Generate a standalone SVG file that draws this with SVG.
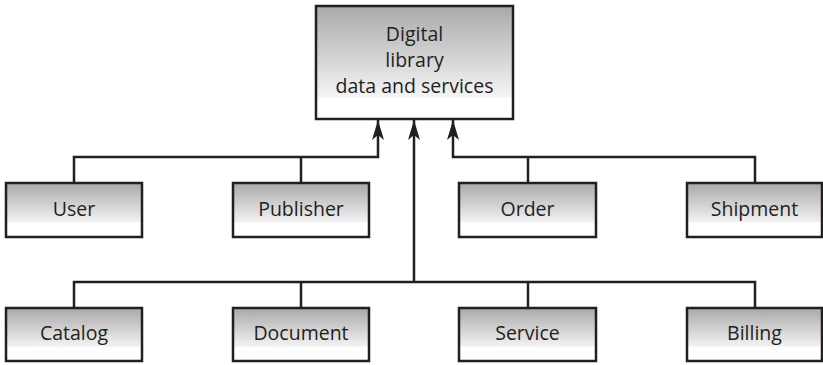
<svg xmlns="http://www.w3.org/2000/svg" width="823" height="365" viewBox="0 0 823 365">
  <defs>
    <linearGradient id="fillTop" x1="0" y1="0" x2="0" y2="1">
      <stop offset="0" stop-color="#a9a9a9"/>
      <stop offset="0.8" stop-color="#f4f4f4"/>
      <stop offset="0.82" stop-color="#ffffff"/>
      <stop offset="1" stop-color="#ffffff"/>
    </linearGradient>
    <linearGradient id="fillBox" x1="0" y1="0" x2="0" y2="1">
      <stop offset="0" stop-color="#a9a9a9"/>
      <stop offset="0.72" stop-color="#f2f2f2"/>
      <stop offset="0.74" stop-color="#ffffff"/>
      <stop offset="1" stop-color="#ffffff"/>
    </linearGradient>
    <!-- notched arrowhead, drawn pointing along +x so orient="auto" follows the path -->
    <marker id="arrow" viewBox="0 0 20 12" refX="20" refY="6" markerWidth="20" markerHeight="12" markerUnits="userSpaceOnUse" orient="auto">
      <path d="M20 6 L0 0 L5 6 L0 12 Z" fill="#231f20"/>
    </marker>
    <style>
      .box { stroke: #231f20; stroke-width: 2.5; }
      .top { fill: url(#fillTop); }
      .leaf { fill: url(#fillBox); }
      .label { font-family: "Open Sans", "Noto Sans", sans-serif; font-size: 19.5px; fill: #231f20; text-anchor: middle; }
      .wire { fill: none; stroke: #231f20; stroke-width: 2.5; }
    </style>
  </defs>

  <g id="connectors">
    <path class="wire" d="M74 183 V157 H378 V120" marker-end="url(#arrow)"/>
    <path class="wire" d="M301 183 V157"/>
    <path class="wire" d="M755 183 V157 H453 V120" marker-end="url(#arrow)"/>
    <path class="wire" d="M528 183 V157"/>
    <path class="wire" d="M74 308 V282 H755 V308"/>
    <path class="wire" d="M301 308 V282"/>
    <path class="wire" d="M528 308 V282"/>
    <path class="wire" d="M414 282 V120" marker-end="url(#arrow)"/>
  </g>

  <g id="digital-library">
    <rect class="box top" x="316" y="6" width="197" height="113"/>
    <text class="label" x="414.5" y="41">Digital</text>
    <text class="label" x="414.5" y="67">library</text>
    <text class="label" x="414.5" y="93">data and services</text>
  </g>

  <g id="user">
    <rect class="box leaf" x="6" y="183" width="136" height="54"/>
    <text class="label" x="74" y="216">User</text>
  </g>
  <g id="publisher">
    <rect class="box leaf" x="233" y="183" width="136" height="54"/>
    <text class="label" x="301" y="216">Publisher</text>
  </g>
  <g id="order">
    <rect class="box leaf" x="459" y="183" width="137" height="54"/>
    <text class="label" x="527.5" y="216">Order</text>
  </g>
  <g id="shipment">
    <rect class="box leaf" x="687" y="183" width="135" height="54"/>
    <text class="label" x="754.5" y="216">Shipment</text>
  </g>

  <g id="catalog">
    <rect class="box leaf" x="6" y="308" width="136" height="53"/>
    <text class="label" x="74" y="340">Catalog</text>
  </g>
  <g id="document">
    <rect class="box leaf" x="233" y="308" width="136" height="53"/>
    <text class="label" x="301" y="340">Document</text>
  </g>
  <g id="service">
    <rect class="box leaf" x="459" y="308" width="137" height="53"/>
    <text class="label" x="527.5" y="340">Service</text>
  </g>
  <g id="billing">
    <rect class="box leaf" x="687" y="308" width="135" height="53"/>
    <text class="label" x="754.5" y="340">Billing</text>
  </g>
</svg>
